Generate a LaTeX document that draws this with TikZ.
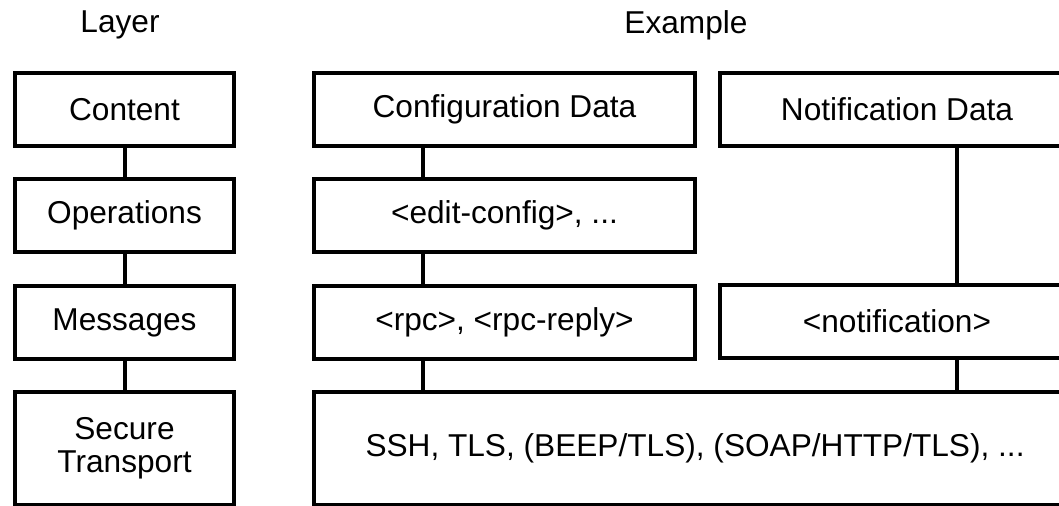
\documentclass[tikz,border=0pt]{standalone}
\usepackage{fontspec}
\setmainfont{Liberation Sans}
\begin{document}
\begin{tikzpicture}[x=0.02cm, y=-0.02cm, line width=0.08cm,
    font=\fontsize{18}{19}\selectfont,
    layerbox/.style={draw, rectangle, inner sep=0pt, align=center, minimum height=1.46cm}]
    \clip (0,0) rectangle (1059,505);
    \useasboundingbox (0,0) rectangle (1059,505);

    \node (layer) at (120, 25) {Layer};
    \node (example) at (686, 25) {Example};

    \node[layerbox, minimum width=4.38cm] (content) at (124.5, 109.5) {Content};
    \node[layerbox, minimum width=4.38cm] (ops) at (124.5, 215) {Operations};
    \node[layerbox, minimum width=4.38cm] (msgs) at (124.5, 322.5) {Messages};
    \node[layerbox, minimum width=4.38cm, minimum height=2.26cm] (transport) at (124.5, 448.5) {Secure\\Transport};

    \node[layerbox, minimum width=7.62cm] (config) at (504.5, 109.5) {Configuration Data};
    \node[layerbox, minimum width=7.62cm] (edit) at (504.5, 215) {<edit-config>, ...};
    \node[layerbox, minimum width=7.62cm] (rpc) at (504.5, 322.5) {<rpc>, <rpc-reply>};

    \node[layerbox, minimum width=7.08cm] (notifdata) at (897, 109.5) {Notification Data};
    \node[layerbox, minimum width=7.08cm] (notif) at (897, 321.5) {<notification>};

    \node[layerbox, minimum width=15.24cm, minimum height=2.26cm] (ssh) at (695, 448.5) {SSH, TLS, (BEEP/TLS), (SOAP/HTTP/TLS), ...};

    \path (content) edge (ops);
    \path (ops) edge (msgs);
    \path (msgs) edge (transport);

    \path ([xshift=-1.63cm]config.south) edge ([xshift=-1.63cm]edit.north);
    \path ([xshift=-1.63cm]edit.south) edge ([xshift=-1.63cm]rpc.north);
    \path ([xshift=-1.63cm]rpc.south) edge ([xshift=-1.63cm]rpc.south |- ssh.north);

    \path ([xshift=1.2cm]notifdata.south) edge ([xshift=1.2cm]notif.north);
    \path ([xshift=1.2cm]notif.south) edge ([xshift=1.2cm]notif.south |- ssh.north);
\end{tikzpicture}
\end{document}
